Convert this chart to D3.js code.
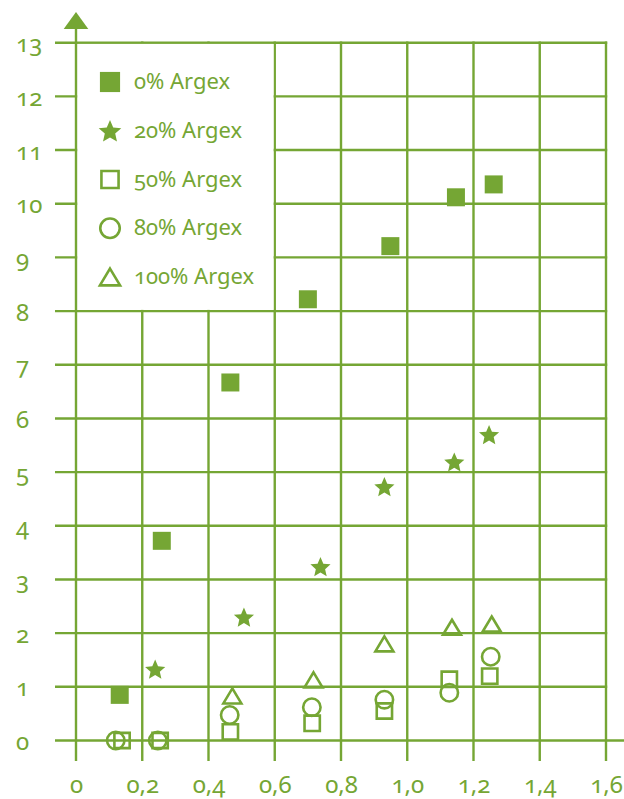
<!DOCTYPE html>
<html>
<head>
<meta charset="utf-8">
<script src="https://cdn.jsdelivr.net/npm/d3@7"></script>
<style>
  html, body { margin: 0; padding: 0; background: #fff; }
  svg { display: block; }
  text { font-family: "Noto Sans", sans-serif; font-variant-numeric: oldstyle-nums; fill: #75a634; }
</style>
</head>
<body>
<svg id="chart" width="624" height="799"></svg>
<script>
// ---- data ----
const seriesNames = ["0% Argex", "20% Argex", "50% Argex", "80% Argex", "100% Argex"];
const argex0   = [[0.132,0.85],[0.259,3.72],[0.466,6.67],[0.700,8.22],[0.949,9.21],[1.147,10.12],[1.261,10.36]];
const argex20  = [[0.239,1.33],[0.507,2.30],[0.738,3.24],[0.931,4.73],[1.142,5.19],[1.247,5.70]];
const argex50  = [[0.139,0.00],[0.254,0.00],[0.466,0.16],[0.713,0.32],[0.931,0.55],[1.127,1.14],[1.249,1.20]];
const argex80  = [[0.120,0.00],[0.247,0.00],[0.464,0.475],[0.712,0.62],[0.931,0.76],[1.127,0.89],[1.252,1.56]];
const argex100 = [[0.472,0.83],[0.717,1.13],[0.931,1.80],[1.135,2.11],[1.255,2.17]];
const xTicks = [0, 0.2, 0.4, 0.6, 0.8, 1.0, 1.2, 1.4, 1.6];
const yTicks = [0,1,2,3,4,5,6,7,8,9,10,11,12,13];

// ---- setup ----
const G = "#75a634";
const svg = d3.select("#chart");
const x = d3.scaleLinear().domain([0, 1.6]).range([76, 606]);
const y = d3.scaleLinear().domain([0, 13]).range([740.5, 42.7]);
const LW = 2.4;

// symbol paths (centered)
function starPath(R, ri) {
  let p = [];
  for (let i = 0; i < 10; i++) {
    const r = i % 2 ? R * ri : R;
    const a = -Math.PI / 2 + i * Math.PI / 5;
    p.push([r * Math.cos(a), r * Math.sin(a) + R * 0.1]);
  }
  return "M" + p.map(d => d.join(",")).join("L") + "Z";
}
function sqPath(s) { const h = s / 2; return `M${-h},${-h}H${h}V${h}H${-h}Z`; }
function circPath(r) { return `M${r},0A${r},${r} 0 1,1 ${-r},0A${r},${r} 0 1,1 ${r},0Z`; }
function triPath(w, h) { return `M0,${-h/2}L${w/2},${h/2}L${-w/2},${h/2}Z`; }

const styles = [
  { data: argex0,   path: k => sqPath(18 * k),            fill: G,      stroke: "none", sw: 0 },
  { data: argex20,  path: k => starPath(10.6 * k, 0.46),  fill: G,      stroke: "none", sw: 0 },
  { data: argex50,  path: k => sqPath(15.3 * k),          fill: "none", stroke: G, sw: 2.6 },
  { data: argex80,  path: k => circPath(8.7 * k),         fill: "none", stroke: G, sw: 2.6 },
  { data: argex100, path: k => triPath(18 * k, 15 * k),   fill: "none", stroke: G, sw: 2.6 }
];

// ---- grid ----
const grid = svg.append("g").attr("stroke", G).attr("stroke-width", LW);
grid.selectAll("line.h").data(yTicks).join("line")
  .attr("x1", 55)
  .attr("x2", d => d === 0 ? 624 : x(1.6) + LW / 2)
  .attr("y1", d => y(d)).attr("y2", d => y(d));
grid.selectAll("line.v").data(xTicks.slice(1)).join("line")
  .attr("x1", d => x(d)).attr("x2", d => x(d))
  .attr("y1", 761).attr("y2", y(13) - LW / 2);

// legend box (white) covering cells [0,0.6]x[8,13]
svg.append("rect")
  .attr("x", x(0) + LW / 2).attr("y", y(13) + LW / 2)
  .attr("width", x(0.6) - x(0) - LW).attr("height", y(8) - y(13) - LW)
  .attr("fill", "#fff");

// y axis line with arrow
svg.append("line").attr("x1", x(0)).attr("x2", x(0)).attr("y1", 761).attr("y2", 26)
  .attr("stroke", G).attr("stroke-width", LW);
svg.append("path").attr("d", `M${x(0)},12L${x(0) + 12.3},29L${x(0) - 12.3},29Z`).attr("fill", G);

// ---- axes labels ----
const yAxis = d3.axisLeft(y).tickValues(yTicks).tickSize(0).tickFormat(d3.format("d"));
const gy = svg.append("g").call(yAxis);
gy.select(".domain").remove();
gy.selectAll("text")
  .attr("x", 16).attr("dy", null).attr("y", 9)
  .attr("text-anchor", "start")
  .style("font-size", "24px").style("font-family", "'Noto Sans', sans-serif").attr("fill", G);

const fmtX = d => d === 0 ? "0" : d3.format(".1f")(d).replace(".", ",");
const xAxis = d3.axisBottom(x).tickValues(xTicks).tickSize(0).tickFormat(fmtX);
const gx = svg.append("g").call(xAxis);
gx.select(".domain").remove();
gx.selectAll("text")
  .attr("y", 793).attr("dy", null)
  .attr("text-anchor", "middle")
  .style("font-size", "24px").style("font-family", "'Noto Sans', sans-serif").attr("fill", G);

// ---- data markers ----
styles.forEach((s, i) => {
  svg.append("g").selectAll("path").data(s.data).join("path")
    .attr("d", s.path(1))
    .attr("transform", d => `translate(${x(d[0])},${y(d[1])})`)
    .attr("fill", s.fill).attr("stroke", s.stroke).attr("stroke-width", s.sw);
});

// ---- legend ----
const legendY = d3.scalePoint().domain(seriesNames).range([82, 277]);
const lg = svg.append("g");
seriesNames.forEach((name, i) => {
  const s = styles[i];
  lg.append("path").attr("d", s.path(1.12))
    .attr("transform", `translate(110,${legendY(name)})`)
    .attr("fill", s.fill).attr("stroke", s.stroke).attr("stroke-width", s.sw);
  lg.append("text").attr("x", 134).attr("y", legendY(name) + 7)
    .style("font-size", "22px").text(name);
});
</script>
</body>
</html>
